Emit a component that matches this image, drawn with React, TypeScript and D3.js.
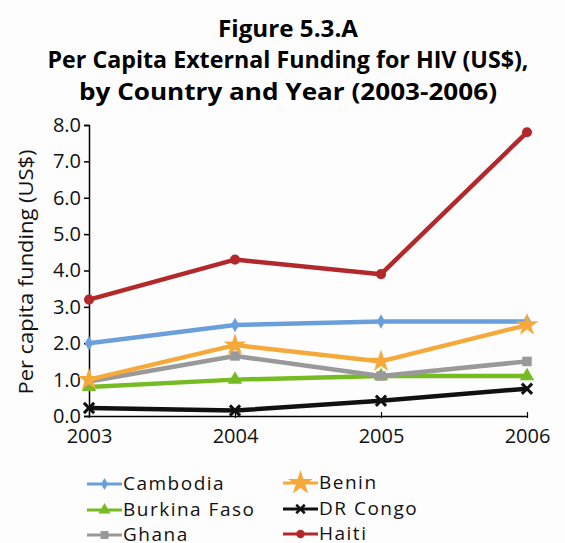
import React, { useEffect, useRef } from 'react';
import * as d3 from 'd3';

const years = [2003, 2004, 2005, 2006];
const cambodia = [2.0, 2.5, 2.6, 2.6];
const burkinaFaso = [0.8, 1.0, 1.1, 1.1];
const ghana = [0.95, 1.65, 1.1, 1.5];
const benin = [1.0, 1.95, 1.5, 2.5];
const drCongo = [0.22, 0.15, 0.42, 0.75];
const haiti = [3.2, 4.3, 3.9, 7.8];
const yTicks = [0, 1, 2, 3, 4, 5, 6, 7, 8];
const titleLines = ['Figure 5.3.A', 'Per Capita External Funding for HIV (US$),', 'by Country and Year (2003-2006)'];

const series = [
  { name: 'Cambodia', values: cambodia, color: '#6a9fdc', symbol: 'diamond' },
  { name: 'Burkina Faso', values: burkinaFaso, color: '#77bb22', symbol: 'triangle' },
  { name: 'Ghana', values: ghana, color: '#999999', symbol: 'square' },
  { name: 'Benin', values: benin, color: '#f6a93b', symbol: 'star' },
  { name: 'DR Congo', values: drCongo, color: '#111111', symbol: 'cross' },
  { name: 'Haiti', values: haiti, color: '#b3282a', symbol: 'circle' },
];

const symbolTypes = {
  diamond: d3.symbolDiamond,
  triangle: d3.symbolTriangle,
  square: d3.symbolSquare,
  star: d3.symbolStar,
  cross: d3.symbolX,
  circle: d3.symbolCircle,
};
const symbolSizes = { diamond: 60, triangle: 90, square: 90, star: 160, cross: 70, circle: 80 };

const font = '"Open Sans", "Liberation Sans", sans-serif';

const App = () => {
  const svgRef = useRef();

  useEffect(() => {
    const svg = d3.select(svgRef.current);
    svg.selectAll('*').remove();

    svg.append('rect').attr('width', 565).attr('height', 543).attr('fill', '#fdfdfd');

    // title
    const titleY = [37, 68, 100];
    const titleW = [140, 481, 418];
    svg.selectAll('text.title')
      .data(titleLines)
      .enter().append('text')
      .attr('class', 'title')
      .attr('x', 288)
      .attr('y', (d, i) => titleY[i])
      .attr('text-anchor', 'middle')
      .attr('font-family', font)
      .attr('font-weight', 'bold')
      .attr('font-size', 23)
      .attr('textLength', (d, i) => titleW[i])
      .attr('lengthAdjust', 'spacingAndGlyphs')
      .attr('fill', '#000')
      .text(d => d);

    const x = d3.scalePoint().domain(years).range([89, 527]);
    const y = d3.scaleLinear().domain([0, 8]).range([416, 125]);

    // y axis
    const yAxis = svg.append('g')
      .attr('transform', 'translate(89,0)')
      .call(d3.axisLeft(y).tickValues(yTicks).tickSize(5).tickPadding(3).tickFormat(d3.format('.1f')));
    yAxis.select('.domain').attr('stroke', '#000').attr('stroke-width', 1.5);
    yAxis.selectAll('.tick line').attr('stroke', '#000').attr('stroke-width', 1.5);
    yAxis.selectAll('.tick text')
      .attr('font-family', font).attr('font-size', 20).attr('fill', '#111');

    // x axis
    const xAxis = svg.append('g')
      .attr('transform', 'translate(0,416)')
      .call(d3.axisBottom(x).tickSize(0).tickPadding(13).tickFormat(d => String(d)));
    xAxis.select('.domain').attr('stroke', '#000').attr('stroke-width', 1.5);
    xAxis.selectAll('.tick').append('line')
      .attr('y1', -4).attr('y2', 2).attr('stroke', '#000').attr('stroke-width', 1.2);
    xAxis.selectAll('.tick text')
      .attr('font-family', font).attr('font-size', 20).attr('fill', '#111');

    // y label
    svg.append('text')
      .attr('transform', 'translate(33,272) rotate(-90)')
      .attr('text-anchor', 'middle')
      .attr('font-family', font)
      .attr('font-size', 20)
      .attr('textLength', 245)
      .attr('lengthAdjust', 'spacingAndGlyphs')
      .attr('fill', '#111')
      .text('Per capita funding (US$)');

    const line = d3.line().x((d, i) => x(years[i])).y(d => y(d));

    series.forEach(s => {
      const g = svg.append('g');
      g.append('path')
        .attr('d', line(s.values))
        .attr('fill', 'none')
        .attr('stroke', s.color)
        .attr('stroke-width', 4.5)
        .attr('stroke-linejoin', 'round');
      g.selectAll('path.marker')
        .data(s.values)
        .enter().append('path')
        .attr('class', 'marker')
        .attr('transform', (d, i) => `translate(${x(years[i])},${y(d)})`)
        .attr('d', d3.symbol().type(symbolTypes[s.symbol]).size(symbolSizes[s.symbol]))
        .attr('fill', s.color)
        .attr('stroke', s.symbol === 'cross' ? s.color : 'none')
        .attr('stroke-width', s.symbol === 'cross' ? 3 : 0);
    });

    // legend
    const legendCols = [87, 283];
    const legendRows = [[484, 510, 535], [483, 509, 534]];
    const legendOrder = ['Cambodia', 'Burkina Faso', 'Ghana', 'Benin', 'DR Congo', 'Haiti'];
    legendOrder.forEach((name, k) => {
      const s = series.find(d => d.name === name);
      const col = Math.floor(k / 3);
      const lx = legendCols[col];
      const ly = legendRows[col][k % 3];
      const g = svg.append('g').attr('transform', `translate(${lx},${ly})`);
      g.append('line')
        .attr('x1', 0).attr('x2', 35)
        .attr('stroke', s.color).attr('stroke-width', 3);
      g.append('path')
        .attr('transform', 'translate(17.5,0)')
        .attr('d', d3.symbol().type(symbolTypes[s.symbol]).size(symbolSizes[s.symbol] * (s.symbol === 'star' ? 1.2 : 0.7)))
        .attr('fill', s.color)
        .attr('stroke', s.symbol === 'cross' ? s.color : 'none')
        .attr('stroke-width', s.symbol === 'cross' ? 2.5 : 0);
      g.append('text')
        .attr('x', 36)
        .attr('y', 6)
        .attr('font-family', font)
        .attr('font-size', 19)
        .attr('letter-spacing', 1.5)
        .attr('fill', '#111')
        .text(name);
    });
  }, []);

  return (
    <svg ref={svgRef} width={565} height={543}
      style={{ position: 'absolute', left: 0, top: 0 }}></svg>
  );
};

export default App;
